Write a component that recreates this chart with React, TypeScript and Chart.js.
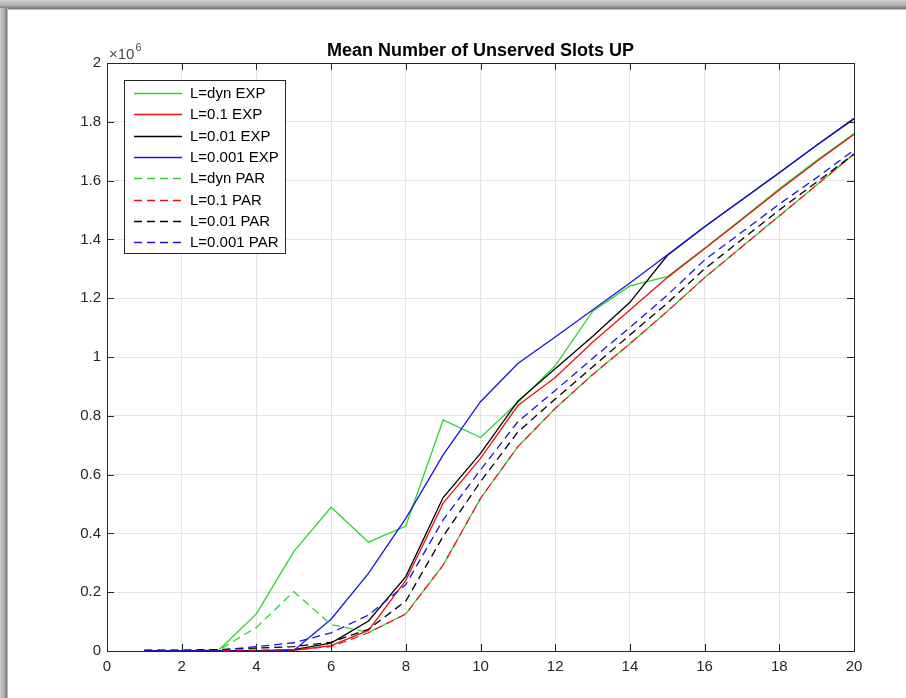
import React, { useEffect, useRef } from 'react';
import { Chart, registerables } from 'chart.js';

Chart.register(...registerables);

// Offered load (x axis)
const LOADS = [1, 2, 3, 4, 5, 6, 7, 8, 9, 10, 11, 12, 13, 14, 15, 16, 17, 18, 19, 20];

// Mean number of unserved slots, in millions (x10^6)
const DYN_EXP = [0, 0, 0.004, 0.126, 0.338, 0.489, 0.37, 0.425, 0.786, 0.726, 0.845, 0.97, 1.155, 1.242, 1.273, 1.37, 1.47, 1.572, 1.668, 1.76];
const L01_EXP = [0, 0, 0, 0, 0.002, 0.018, 0.07, 0.24, 0.503, 0.655, 0.835, 0.93, 1.05, 1.16, 1.27, 1.368, 1.468, 1.568, 1.665, 1.757];
const L001_EXP = [0, 0, 0, 0, 0.005, 0.027, 0.102, 0.253, 0.522, 0.672, 0.85, 0.96, 1.07, 1.186, 1.345, 1.443, 1.535, 1.627, 1.72, 1.81];
const L0001_EXP = [0, 0, 0, 0, 0.002, 0.108, 0.264, 0.451, 0.667, 0.848, 0.978, 1.068, 1.16, 1.252, 1.347, 1.443, 1.535, 1.627, 1.72, 1.812];
const DYN_PAR = [0, 0, 0.004, 0.08, 0.202, 0.09, 0.063, 0.126, 0.292, 0.519, 0.695, 0.825, 0.94, 1.045, 1.155, 1.27, 1.375, 1.48, 1.585, 1.69];
const L01_PAR = [0.001, 0.001, 0.002, 0.003, 0.004, 0.015, 0.062, 0.126, 0.292, 0.519, 0.695, 0.825, 0.94, 1.045, 1.155, 1.27, 1.375, 1.48, 1.585, 1.69];
const L001_PAR = [0.003, 0.003, 0.005, 0.01, 0.015, 0.03, 0.074, 0.17, 0.39, 0.576, 0.745, 0.857, 0.966, 1.075, 1.183, 1.3, 1.4, 1.5, 1.595, 1.69];
const L0001_PAR = [0.002, 0.002, 0.003, 0.015, 0.028, 0.062, 0.122, 0.226, 0.446, 0.616, 0.78, 0.886, 0.995, 1.1, 1.21, 1.33, 1.425, 1.52, 1.61, 1.704];

const SERIES = [DYN_EXP, L01_EXP, L001_EXP, L0001_EXP, DYN_PAR, L01_PAR, L001_PAR, L0001_PAR];
const SERIES_LABELS = ['L=dyn EXP', 'L=0.1 EXP', 'L=0.01 EXP', 'L=0.001 EXP', 'L=dyn PAR', 'L=0.1 PAR', 'L=0.01 PAR', 'L=0.001 PAR'];
const SERIES_COLORS = ['#2ad62a', '#e81212', '#000000', '#1515e0', '#2ad62a', '#e81212', '#000000', '#1515e0'];
const SERIES_DASHED = [false, false, false, false, true, true, true, true];

const SCALE = 1e6;
const X_TICKS = [0, 2, 4, 6, 8, 10, 12, 14, 16, 18, 20];
const Y_MAX = 2;
const Y_STEP = 0.2;

const TITLE = 'Mean Number of Unserved Slots UP';
const FONT = '"Liberation Sans", Arial, Helvetica, sans-serif';
const AXIS_COLOR = '#262626';
const DASH = [8, 5];

const framePlugin = {
  id: 'frame',
  beforeDraw(chart: any) {
    const { ctx, width, height } = chart;
    ctx.save();
    ctx.fillStyle = '#ffffff';
    ctx.fillRect(0, 0, width, height);
    // top band
    const gt = ctx.createLinearGradient(0, 0, 0, 10);
    gt.addColorStop(0, '#cfcfcf');
    gt.addColorStop(0.55, '#ababab');
    gt.addColorStop(0.85, '#7a7a7a');
    gt.addColorStop(1, '#e6e6e6');
    ctx.fillStyle = gt;
    ctx.fillRect(0, 0, width, 10);
    // left band
    const gl = ctx.createLinearGradient(0, 0, 8, 0);
    gl.addColorStop(0, '#cfcfcf');
    gl.addColorStop(0.55, '#ababab');
    gl.addColorStop(0.85, '#7a7a7a');
    gl.addColorStop(1, '#e6e6e6');
    ctx.fillStyle = gl;
    ctx.fillRect(0, 8, 8, height - 8);
    ctx.restore();
  },
  afterDraw(chart: any) {
    const { ctx, chartArea } = chart;
    const { left, right, top, bottom } = chartArea;
    const xs = chart.scales.x;
    const ys = chart.scales.y;
    ctx.save();
    // box
    ctx.strokeStyle = AXIS_COLOR;
    ctx.lineWidth = 1;
    ctx.setLineDash([]);
    ctx.strokeRect(Math.round(left) + 0.5, Math.round(top) + 0.5, Math.round(right - left), Math.round(bottom - top));
    // inward ticks
    const tl = 7;
    ctx.beginPath();
    xs.ticks.forEach((t: any) => {
      const px = Math.round(xs.getPixelForValue(t.value)) + 0.5;
      ctx.moveTo(px, bottom);
      ctx.lineTo(px, bottom - tl);
      ctx.moveTo(px, top);
      ctx.lineTo(px, top + tl);
    });
    ys.ticks.forEach((t: any) => {
      const py = Math.round(ys.getPixelForValue(t.value)) + 0.5;
      ctx.moveTo(left, py);
      ctx.lineTo(left + tl, py);
      ctx.moveTo(right, py);
      ctx.lineTo(right - tl, py);
    });
    ctx.stroke();

    // exponent label
    ctx.fillStyle = '#4a4a4a';
    ctx.textBaseline = 'alphabetic';
    ctx.textAlign = 'left';
    ctx.font = `15px ${FONT}`;
    ctx.fillText('\u00d710', left + 2, top - 4);
    const w = ctx.measureText('\u00d710').width;
    ctx.font = `11px ${FONT}`;
    ctx.fillText('6', left + 2 + w + 1, top - 12);

    // title
    ctx.fillStyle = '#000000';
    ctx.font = `bold 18px ${FONT}`;
    ctx.textAlign = 'center';
    ctx.fillText(TITLE, (left + right) / 2, top - 7);

    // legend
    const lx = 124, ly = 80, lw = 161, lh = 173;
    ctx.fillStyle = '#ffffff';
    ctx.fillRect(lx, ly, lw, lh);
    ctx.strokeStyle = AXIS_COLOR;
    ctx.lineWidth = 1;
    ctx.strokeRect(lx + 0.5, ly + 0.5, lw, lh);
    ctx.font = `15px ${FONT}`;
    ctx.textAlign = 'left';
    ctx.textBaseline = 'middle';
    chart.data.datasets.forEach((ds: any, i: number) => {
      const yy = Math.round(ly + 13 + i * 21.3) + 0.5;
      ctx.strokeStyle = ds.borderColor;
      ctx.lineWidth = ds.borderWidth;
      ctx.setLineDash(ds.borderDash || []);
      ctx.beginPath();
      ctx.moveTo(lx + 10, yy);
      ctx.lineTo(lx + 58, yy);
      ctx.stroke();
      ctx.fillStyle = '#000000';
      ctx.fillText(ds.label, lx + 66, yy + 0.5);
    });
    ctx.restore();
  },
};

export default function App() {
  const ref = useRef<HTMLCanvasElement | null>(null);
  useEffect(() => {
    document.body.style.margin = '0';
    const canvas = ref.current;
    if (!canvas) return;
    const n = SERIES.length;
    const chart = new Chart(canvas, {
      type: 'line',
      data: {
        datasets: SERIES.map((s, i) => ({
          label: SERIES_LABELS[i],
          data: s.map((v, j) => ({ x: LOADS[j], y: v * SCALE })),
          borderColor: SERIES_COLORS[i],
          backgroundColor: SERIES_COLORS[i],
          borderWidth: 1.3,
          borderDash: SERIES_DASHED[i] ? DASH : [],
          pointRadius: 0,
          tension: 0,
          fill: false,
          order: n - i,
        })),
      },
      options: {
        responsive: false,
        animation: false,
        devicePixelRatio: 1,
        layout: { padding: { left: 0, top: 63, right: 52, bottom: 0 } },
        plugins: {
          legend: { display: false },
          title: { display: false },
          tooltip: { enabled: false },
        },
        scales: {
          x: {
            type: 'linear',
            min: 0,
            max: 20,
            afterBuildTicks: (scale: any) => {
              scale.ticks = X_TICKS.map((v) => ({ value: v }));
            },
            afterFit: (scale: any) => {
              scale.height = 47;
            },
            ticks: {
              color: AXIS_COLOR,
              font: { family: FONT, size: 15 },
              padding: 7,
              maxRotation: 0,
              autoSkip: false,
            },
            grid: { color: '#e4e4e4', lineWidth: 1, drawTicks: false },
            border: { display: false },
          },
          y: {
            type: 'linear',
            min: 0,
            max: Y_MAX * SCALE,
            ticks: {
              stepSize: Y_STEP * SCALE,
              color: AXIS_COLOR,
              font: { family: FONT, size: 15 },
              padding: 6,
              callback: (v: any) => String(Math.round((Number(v) / SCALE) * 10) / 10),
            },
            afterFit: (scale: any) => {
              scale.width = 107;
            },
            grid: { color: '#e4e4e4', lineWidth: 1, drawTicks: false },
            border: { display: false },
          },
        },
      },
      plugins: [framePlugin],
    });
    return () => chart.destroy();
  }, []);
  return (
    <div style={{ position: 'fixed', left: 0, top: 0, width: 906, height: 698 }}>
      <canvas ref={ref} width={906} height={698} style={{ display: 'block' }} />
    </div>
  );
}
